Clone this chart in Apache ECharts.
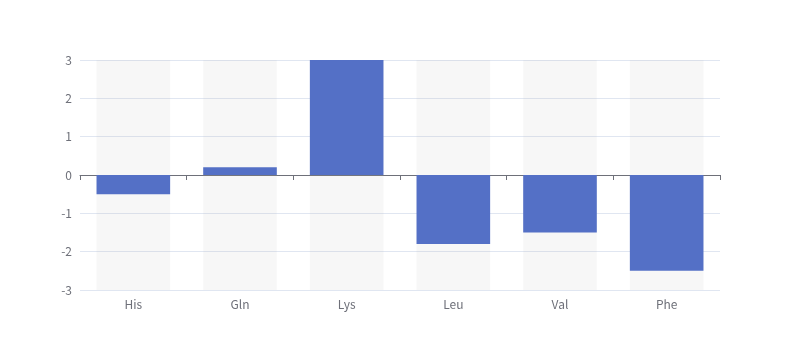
<!DOCTYPE html>
<html>
<head>
<meta charset="utf-8">
<script src="https://cdn.jsdelivr.net/npm/echarts@6/dist/echarts.min.js"></script>
<style>html,body{margin:0;padding:0;background:#fff}#c{width:800px;height:360px}</style>
</head>
<body>
<div id="c"></div>
<script>
const categories = ['His', 'Gln', 'Lys', 'Leu', 'Val', 'Phe'];
const values = [-0.5, 0.2, 3, -1.8, -1.5, -2.5];
const yTicks = { min: -3, max: 3, interval: 1 };

const FONT = 'Noto Sans CJK SC, sans-serif';
const chart = echarts.init(document.getElementById('c'), null, { renderer: 'canvas' });
chart.setOption({
  animation: false,
  textStyle: { fontFamily: FONT },
  grid: { left: 80, right: 80, top: 60, bottom: 70 },
  xAxis: [
    {
      type: 'category',
      data: categories,
      position: 'bottom',
      axisLine: { onZero: true, lineStyle: { color: '#6E7079' } },
      axisTick: { show: true },
      axisLabel: { show: false }
    },
    {
      type: 'category',
      data: categories,
      position: 'bottom',
      axisLine: { show: false, onZero: false },
      axisTick: { show: false },
      axisLabel: { show: true, color: '#6E7079', fontSize: 12, margin: 8, fontFamily: FONT }
    }
  ],
  yAxis: {
    type: 'value',
    min: yTicks.min,
    max: yTicks.max,
    interval: yTicks.interval,
    axisLabel: { color: '#6E7079', fontSize: 12, fontFamily: FONT },
    splitLine: { lineStyle: { color: '#E0E6F1' } }
  },
  series: [{
    type: 'bar',
    xAxisIndex: 0,
    data: values,
    barWidth: '69%',
    itemStyle: { color: '#5470c6' },
    showBackground: true,
    backgroundStyle: { color: 'rgba(180,180,180,0.1)' }
  }]
});
</script>
</body>
</html>
